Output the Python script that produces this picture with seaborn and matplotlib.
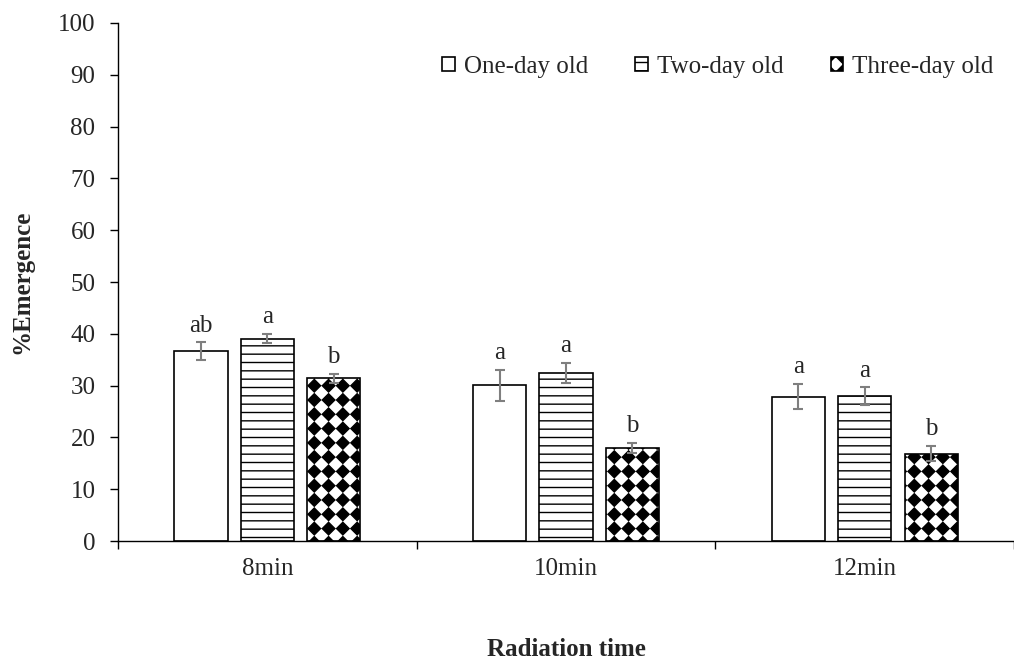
import numpy as np
import pandas as pd
import matplotlib
matplotlib.use("Agg")
import matplotlib.pyplot as plt
import matplotlib.hatch as mhatch
from matplotlib.path import Path
from matplotlib.ticker import FixedLocator
import seaborn as sns

# ---------------- data ----------------
times = ["8min", "10min", "12min"]
ages = ["One-day old", "Two-day old", "Three-day old"]
one_day = [36.7, 30.1, 27.9]
two_day = [39.1, 32.5, 28.0]
three_day = [31.4, 18.0, 16.9]
one_day_err = [1.7, 3.0, 2.5]
two_day_err = [0.9, 1.9, 1.7]
three_day_err = [0.9, 1.0, 1.5]
one_day_letters = ["ab", "a", "a"]
two_day_letters = ["a", "a", "a"]
three_day_letters = ["b", "b", "b"]

values = [one_day, two_day, three_day]
errors = [one_day_err, two_day_err, three_day_err]
letters = [one_day_letters, two_day_letters, three_day_letters]


# ---------------- custom diamond-grid hatch ----------------
class DiamondGrid(mhatch.HatchPatternBase):
    def __init__(self, hatch, density):
        self.n = 7 if "*" in hatch else 0
        self.num_vertices = (self.n + 1) ** 2 * 5 if self.n else 0

    def set_vertices_and_codes(self, vertices, codes):
        n = self.n
        r = 0.44 / n
        shape = np.array([[0, r], [r, 0], [0, -r], [-r, 0], [0, r]])
        k = 0
        for i in range(n + 1):
            for j in range(n + 1):
                vertices[k:k + 5] = shape + np.array([i / n, j / n])
                codes[k] = Path.MOVETO
                codes[k + 1:k + 4] = Path.LINETO
                codes[k + 4] = Path.CLOSEPOLY
                k += 5


mhatch._hatch_types = [t for t in mhatch._hatch_types if t is not mhatch.Stars] + [DiamondGrid]

# ---------------- figure ----------------
sns.set_style("ticks")
plt.rcParams["font.family"] = ["Liberation Serif", "DejaVu Serif"]
plt.rcParams["hatch.linewidth"] = 1.0
plt.rcParams["hatch.color"] = "black"

FS = 18

df = pd.DataFrame({
    "time": times * 3,
    "age": np.repeat(ages, len(times)).tolist(),
    "value": one_day + two_day + three_day,
})

fig = plt.figure(figsize=(10.14, 6.68), dpi=100)
ax = fig.add_axes([0.1164, 0.19, 0.8836, 0.7756])

sns.barplot(data=df, x="time", y="value", hue="age", order=times, hue_order=ages,
            palette={a: "white" for a in ages}, saturation=1, width=0.667, gap=0.2,
            edgecolor="black", linewidth=1.2, errorbar=None, ax=ax, legend=False)

hatches = ["", "--", "*"]
for cont, h, errs, lets in zip(ax.containers, hatches, errors, letters):
    xs, ys = [], []
    for p in cont.patches:
        p.set_hatch(h)
        p.set_edgecolor("black")
        xs.append(p.get_x() + p.get_width() / 2)
        ys.append(p.get_height())
    ax.errorbar(xs, ys, yerr=errs, fmt="none", ecolor="#7f7f7f",
                elinewidth=1.5, capsize=3.6, capthick=1.5, zorder=5)
    for x, y, e, t in zip(xs, ys, errs, lets):
        ax.annotate(t, (x, y + e), xytext=(0, 4), textcoords="offset points",
                    ha="center", va="bottom", fontsize=FS)

ax.set_ylim(0, 100)
ax.set_yticks(np.arange(0, 101, 10))
ax.set_xlim(-0.5, 2.5)
ax.xaxis.set_minor_locator(FixedLocator([-0.5, 0.5, 1.5, 2.5]))
ax.tick_params(axis="x", which="major", length=0, pad=12, labelsize=FS)
ax.tick_params(axis="x", which="minor", length=6, width=1.0, direction="out", color="black")
ax.tick_params(axis="y", length=5.8, width=1.0, pad=10.5, labelsize=FS, color="black")

for s in ["top", "right"]:
    ax.spines[s].set_visible(False)
for s in ["left", "bottom"]:
    ax.spines[s].set_linewidth(1.0)
    ax.spines[s].set_color("black")

ax.set_xlabel("Radiation time", fontsize=FS, fontweight="bold", labelpad=42)
ax.set_ylabel("%Emergence", fontsize=FS, fontweight="bold", labelpad=18)

ax.legend(ax.containers, ages, loc="upper right", bbox_to_anchor=(1.002, 0.98),
          ncol=3, frameon=False, fontsize=FS, handlelength=0.5, handleheight=0.5,
          handletextpad=0.35, columnspacing=1.9)

fig.savefig("out.png", dpi=100)
